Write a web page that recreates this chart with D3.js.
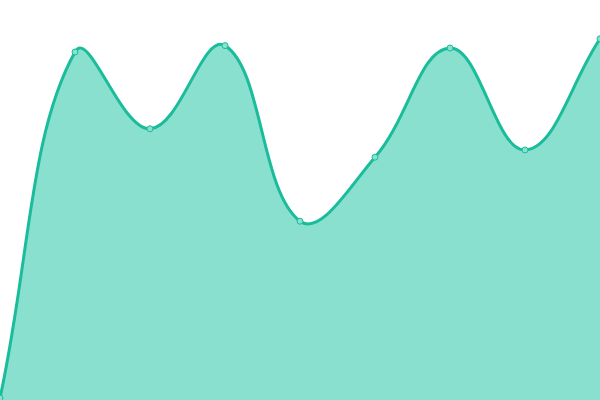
<!DOCTYPE html>
<html>
<head>
<meta charset="utf-8">
<script src="https://cdn.jsdelivr.net/npm/d3@7.9.0/dist/d3.min.js"></script>
<style>
  html, body { margin: 0; padding: 0; background: #fff; }
  svg { display: block; }
</style>
</head>
<body>
<svg id="chart" width="600" height="400"></svg>
<script>
/* ---------- Data ---------- */
const categories = [0, 1, 2, 3, 4, 5, 6, 7, 8];
const values = [0.5, 87, 67.8, 88.6, 44.7, 60.7, 88, 62.5, 90.3];

/* ---------- Setup ---------- */
const width = 600, height = 400;
const svg = d3.select('#chart');

const x = d3.scaleLinear().domain(d3.extent(categories)).range([0, width]);
const y = d3.scaleLinear().domain([0, 100]).range([height, 0]);

const pts = categories.map((c, i) => ({ c, v: values[i] }));

/* ---------- Spline curve (distance-weighted, tension 0.4) ---------- */
function curveSpline(context) {
  const t = 0.4;
  let buf = [], line = NaN;
  const clampX = v => Math.max(0, Math.min(width, v));
  const clampY = v => Math.max(0, Math.min(height, v));

  function draw() {
    const n = buf.length;
    if (!n) return;
    line ? context.lineTo(buf[0][0], buf[0][1]) : context.moveTo(buf[0][0], buf[0][1]);
    if (n === 1) return;
    const cps = buf.map((cur, i) => {
      const prev = buf[i - 1] || cur, next = buf[i + 1] || cur;
      const d01 = Math.hypot(cur[0] - prev[0], cur[1] - prev[1]);
      const d12 = Math.hypot(next[0] - cur[0], next[1] - cur[1]);
      let s01 = d01 / (d01 + d12), s12 = d12 / (d01 + d12);
      if (isNaN(s01)) s01 = 0;
      if (isNaN(s12)) s12 = 0;
      const fa = t * s01, fb = t * s12;
      return {
        prev: [clampX(cur[0] - fa * (next[0] - prev[0])), clampY(cur[1] - fa * (next[1] - prev[1]))],
        next: [clampX(cur[0] + fb * (next[0] - prev[0])), clampY(cur[1] + fb * (next[1] - prev[1]))]
      };
    });
    for (let i = 1; i < n; i++) {
      const a = cps[i - 1].next, b = cps[i].prev;
      context.bezierCurveTo(a[0], a[1], b[0], b[1], buf[i][0], buf[i][1]);
    }
  }

  return {
    areaStart() { line = 0; },
    areaEnd() { line = NaN; },
    lineStart() { buf = []; },
    lineEnd() {
      draw();
      if (line) context.closePath();
      line = 1 - line;
    },
    point(px, py) { buf.push([+px, +py]); }
  };
}

const area = d3.area()
  .x(d => x(d.c))
  .y0(y(0))
  .y1(d => y(d.v))
  .curve(curveSpline);

const line = d3.line()
  .x(d => x(d.c))
  .y(d => y(d.v))
  .curve(curveSpline);

svg.append('path')
  .datum(pts)
  .attr('d', area)
  .attr('fill', '#8ae0cf');

svg.append('path')
  .datum(pts)
  .attr('d', line)
  .attr('fill', 'none')
  .attr('stroke', '#1abc9c')
  .attr('stroke-width', 3);

svg.selectAll('circle')
  .data(pts)
  .enter().append('circle')
  .attr('cx', d => x(d.c))
  .attr('cy', d => y(d.v))
  .attr('r', 3)
  .attr('fill', '#8ae0cf')
  .attr('stroke', '#1abc9c')
  .attr('stroke-width', 1);
</script>
</body>
</html>
